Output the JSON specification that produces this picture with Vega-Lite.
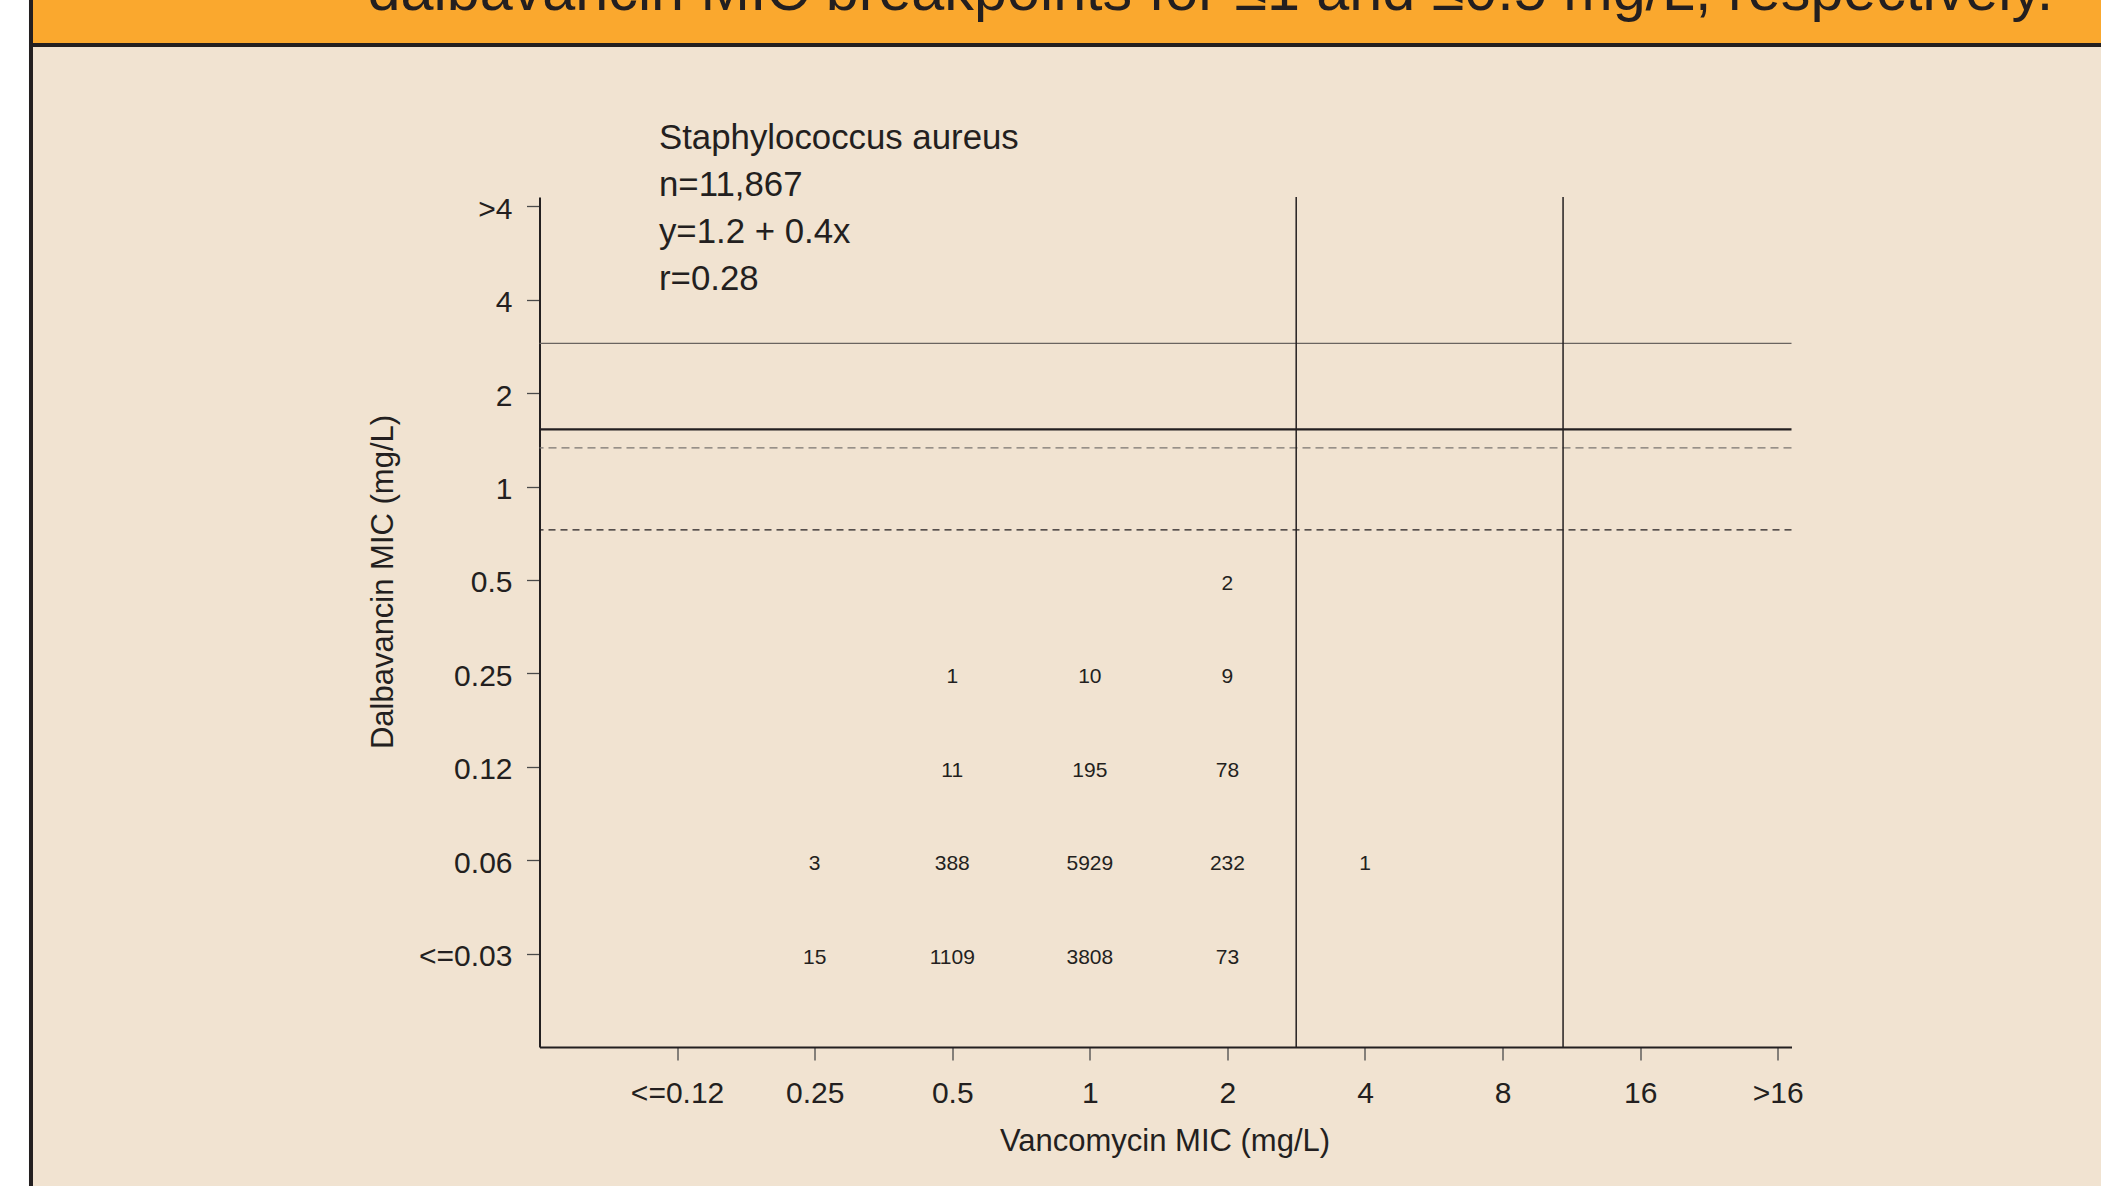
{
  "$schema": "https://vega.github.io/schema/vega-lite/v6.json",
  "autosize": {"type": "none"},
  "width": 1252,
  "height": 850,
  "padding": {"left": 539.5, "top": 197, "right": 309.5, "bottom": 139},
  "background": "#F1E3D1",
  "config": {
    "view": {"stroke": null},
    "font": "Liberation Sans",
    "axis": {
      "grid": false,
      "domainColor": "#231F20",
      "domainWidth": 2,
      "tickColor": "#4a4a4a",
      "tickWidth": 1.3,
      "tickSize": 13,
      "labelFont": "Liberation Sans",
      "labelFontSize": 30,
      "labelColor": "#231F20",
      "labelOverlap": false,
      "labelFlush": false,
      "titleFont": "Liberation Sans",
      "titleFontSize": 31,
      "titleFontWeight": "normal",
      "titleColor": "#231F20"
    }
  },
  "datasets": {
    "cells": [
      {"vancomycin": 2, "dalbavancin": 0.5, "isolates": 2},
      {"vancomycin": 0.5, "dalbavancin": 0.25, "isolates": 1},
      {"vancomycin": 1, "dalbavancin": 0.25, "isolates": 10},
      {"vancomycin": 2, "dalbavancin": 0.25, "isolates": 9},
      {"vancomycin": 0.5, "dalbavancin": 0.125, "isolates": 11},
      {"vancomycin": 1, "dalbavancin": 0.125, "isolates": 195},
      {"vancomycin": 2, "dalbavancin": 0.125, "isolates": 78},
      {"vancomycin": 0.25, "dalbavancin": 0.0625, "isolates": 3},
      {"vancomycin": 0.5, "dalbavancin": 0.0625, "isolates": 388},
      {"vancomycin": 1, "dalbavancin": 0.0625, "isolates": 5929},
      {"vancomycin": 2, "dalbavancin": 0.0625, "isolates": 232},
      {"vancomycin": 4, "dalbavancin": 0.0625, "isolates": 1},
      {"vancomycin": 0.25, "dalbavancin": 0.03125, "isolates": 15},
      {"vancomycin": 0.5, "dalbavancin": 0.03125, "isolates": 1109},
      {"vancomycin": 1, "dalbavancin": 0.03125, "isolates": 3808},
      {"vancomycin": 2, "dalbavancin": 0.03125, "isolates": 73}
    ],
    "one": [{}]
  },
  "layer": [
    {
      "data": {"name": "cells"},
      "mark": {"type": "text", "fontSize": 21, "color": "#231F20", "baseline": "middle", "align": "center", "dy": 4},
      "encoding": {
        "x": {
          "field": "vancomycin", "type": "quantitative",
          "scale": {"type": "log", "base": 2, "domain": [0.0625, 34.297], "nice": false},
          "axis": {
            "title": "Vancomycin MIC (mg/L)",
            "values": [0.125, 0.25, 0.5, 1, 2, 4, 8, 16, 32],
            "labelExpr": "datum.value < 0.2 ? '<=0.12' : datum.value > 20 ? '>16' : '' + datum.value",
            "labelPadding": 18,
            "titleX": 625,
            "titleY": 103,
            "titleBaseline": "alphabetic"
          }
        },
        "y": {
          "field": "dalbavancin", "type": "quantitative",
          "scale": {"type": "log", "base": 2, "domain": [0.015625, 8.574], "nice": false},
          "axis": {
            "title": "Dalbavancin MIC (mg/L)",
            "values": [0.03125, 0.0625, 0.125, 0.25, 0.5, 1, 2, 4, 8],
            "labelExpr": "datum.value < 0.04 ? '<=0.03' : datum.value < 0.1 ? '0.06' : datum.value < 0.2 ? '0.12' : datum.value > 6 ? '>4' : '' + datum.value",
            "labelPadding": 14.5,
            "labelOffset": 3,
            "titleX": -147.5,
            "titleY": 384.5,
            "titleBaseline": "alphabetic"
          }
        },
        "text": {"field": "isolates", "type": "quantitative", "format": "d"}
      }
    },
    {
      "data": {"name": "one"},
      "mark": {"type": "rect", "color": "#FFFFFF"},
      "encoding": {
        "x": {"datum": 0.0005}, "x2": {"datum": 0.0047739},
        "y": {"datum": 0.0001}, "y2": {"datum": 5000}
      }
    },
    {
      "data": {"name": "one"},
      "mark": {"type": "rect", "color": "#FAA82E"},
      "encoding": {
        "x": {"datum": 0.0048}, "x2": {"datum": 5000},
        "y": {"datum": 26.87}, "y2": {"datum": 5000}
      }
    },
    {
      "data": {"name": "one"},
      "mark": {"type": "rect", "color": "#231F20"},
      "encoding": {
        "x": {"datum": 0.0048}, "x2": {"datum": 5000},
        "y": {"datum": 26.09}, "y2": {"datum": 26.87}
      }
    },
    {
      "data": {"name": "one"},
      "mark": {"type": "rect", "color": "#231F20"},
      "encoding": {
        "x": {"datum": 0.0047739}, "x2": {"datum": 0.0048713},
        "y": {"datum": 0.0001}, "y2": {"datum": 5000}
      }
    },
    {
      "data": {"name": "one"},
      "mark": {"type": "text", "text": "dalbavancin MIC breakpoints for ≤1 and ≤0.5 mg/L, respectively.", "fontSize": 59.3, "color": "#231F20", "align": "left", "baseline": "alphabetic"},
      "encoding": {"x": {"datum": 0.02628}, "y": {"datum": 34.47}}
    },
    {
      "data": {"name": "one"},
      "mark": {"type": "text", "text": ["Staphylococcus aureus", "n=11,867", "y=1.2 + 0.4x", "r=0.28"], "fontSize": 34.8, "lineHeight": 47, "color": "#231F20", "align": "left", "baseline": "alphabetic"},
      "encoding": {"x": {"datum": 0.1141}, "y": {"datum": 12.21}}
    },
    {
      "data": {"name": "one"},
      "mark": {"type": "rule", "color": "#6a6460", "strokeWidth": 1.3},
      "encoding": {"y": {"datum": 2.895}}
    },
    {
      "data": {"name": "one"},
      "mark": {"type": "rule", "color": "#231F20", "strokeWidth": 2.3},
      "encoding": {"y": {"datum": 1.529}}
    },
    {
      "data": {"name": "one"},
      "mark": {"type": "rule", "color": "#7a7570", "strokeWidth": 1.3, "strokeDash": [8, 5]},
      "encoding": {"y": {"datum": 1.333}}
    },
    {
      "data": {"name": "one"},
      "mark": {"type": "rule", "color": "#231F20", "strokeWidth": 1.2, "strokeDash": [7, 5]},
      "encoding": {"y": {"datum": 0.7253}}
    },
    {
      "data": {"name": "one"},
      "mark": {"type": "rule", "color": "#231F20", "strokeWidth": 1.5},
      "encoding": {"x": {"datum": 2.8284}}
    },
    {
      "data": {"name": "one"},
      "mark": {"type": "rule", "color": "#231F20", "strokeWidth": 1.5},
      "encoding": {"x": {"datum": 10.85}}
    }
  ]
}
